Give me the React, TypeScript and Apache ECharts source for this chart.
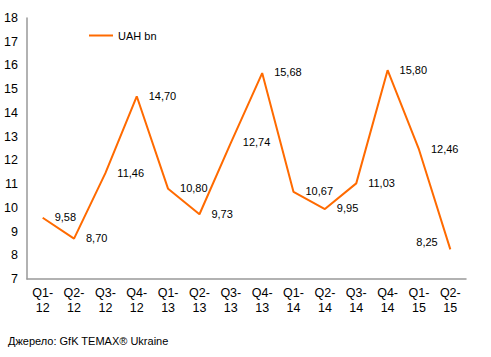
import React, { useEffect, useRef } from "react";
import * as echarts from "echarts";

const categories = ["Q1-\n12", "Q2-\n12", "Q3-\n12", "Q4-\n12", "Q1-\n13", "Q2-\n13", "Q3-\n13", "Q4-\n13", "Q1-\n14", "Q2-\n14", "Q3-\n14", "Q4-\n14", "Q1-\n15", "Q2-\n15"];
const values = [9.58, 8.7, 11.46, 14.7, 10.8, 9.73, 12.74, 15.68, 10.67, 9.95, 11.03, 15.8, 12.46, 8.25];
const seriesName = "UAH bn";
const sourceText = "Джерело: GfK TEMAX® Ukraine";

export default function App() {
  const ref = useRef<HTMLDivElement>(null);
  useEffect(() => {
    if (!ref.current) return;
    const chart = echarts.init(ref.current, null, { renderer: "svg" });
    const font = "Liberation Sans, Arial, sans-serif";
    const fmt = (p: any) => Number(p.value).toFixed(2).replace(".", ",");
    chart.setOption({
      animation: false,
      textStyle: { fontFamily: font },
      grid: { left: 27, right: 25, top: 18, bottom: 78, containLabel: false },
      legend: {
        data: [seriesName],
        left: 84,
        top: 25,
        itemWidth: 24,
        itemHeight: 2,
        itemGap: 4,
        icon: "rect",
        itemStyle: { color: "#FF6A00", opacity: 1 },
        textStyle: { fontFamily: font, fontSize: 11, color: "#000" },
      },
      xAxis: {
        type: "category",
        data: categories,
        boundaryGap: true,
        axisLine: { lineStyle: { color: "#999", width: 1.5 } },
        axisTick: { show: false },
        axisLabel: { color: "#000", fontSize: 12.5, fontFamily: font, margin: 6, lineHeight: 15, interval: 0 },
      },
      yAxis: {
        type: "value",
        min: 7,
        max: 18,
        interval: 1,
        splitLine: { show: false },
        axisLine: { show: true, lineStyle: { color: "#999", width: 1.5 } },
        axisTick: { show: false },
        axisLabel: { color: "#000", fontSize: 12.5, fontFamily: font, margin: 9 },
      },
      graphic: [
        {
          type: "text",
          left: 8,
          top: 335,
          style: { text: sourceText, fontSize: 11, fontFamily: font, fill: "#000" },
        },
      ],
      series: [
        {
          name: seriesName,
          type: "line",
          data: values.map((v, i) =>
            i === values.length - 1
              ? { value: v, label: { position: [-34, -13] } }
              : { value: v }
          ),
          symbol: "circle",
          symbolSize: 0.1,
          showSymbol: true,
          lineStyle: { color: "#FF6A00", width: 2 },
          itemStyle: { color: "#FF6A00" },
          labelLayout: { hideOverlap: false },
          label: {
            show: true,
            position: [12, -6],
            color: "#000",
            fontSize: 11,
            fontFamily: font,
            formatter: fmt,
          },
        },
      ],
    });
    return () => chart.dispose();
  }, []);
  return <div ref={ref} style={{ position: "absolute", left: 0, top: 0, width: 491, height: 357 }} />;
}
